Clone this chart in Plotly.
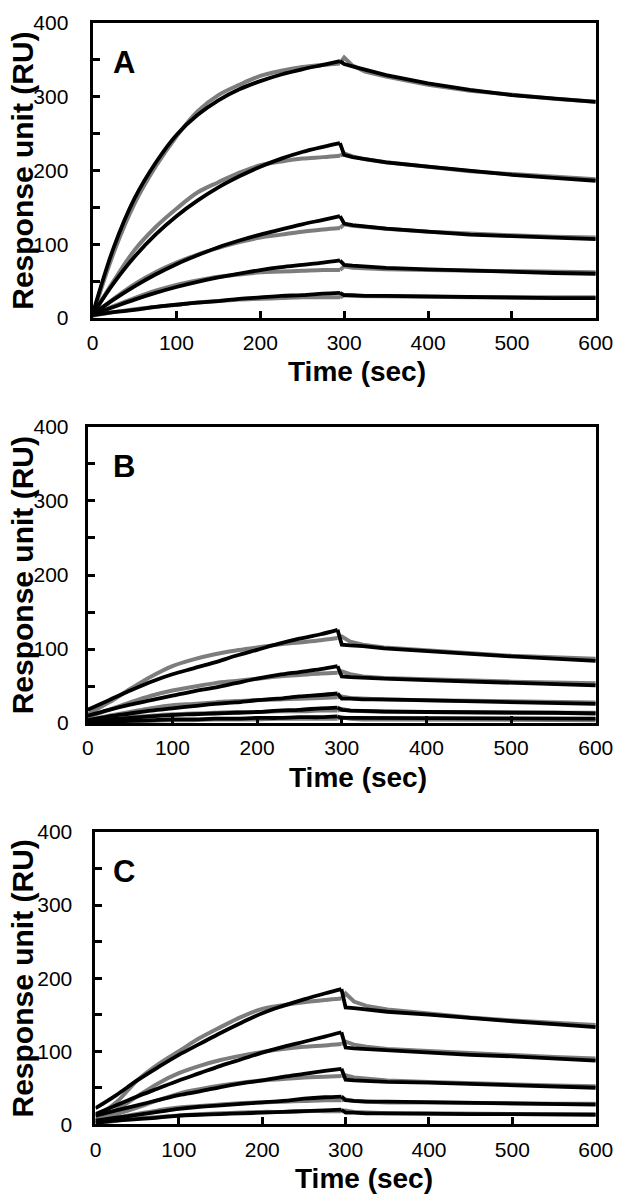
import plotly.graph_objects as go

# ---------------- data ----------------
# association phase time points (s) and dissociation phase time points (s)
T_ON = [0, 25, 50, 75, 100, 125, 150, 175, 200, 225, 250, 275, 295]
T_OFF = [300, 310, 325, 350, 400, 450, 500, 550, 600]

X_TICKS = [0, 100, 200, 300, 400, 500, 600]
Y_TICKS = [0, 100, 200, 300, 400]
Y_MINOR = [50, 150, 250, 350]
PANEL_LABELS = ["A", "B", "C"]

# Panel A : measured sensorgrams (grey) and fitted curves (black)
A_data_on = [
    [3, 88, 155, 205, 246, 280, 302, 316, 328, 335, 340, 343, 345],
    [4, 50, 92, 123, 148, 170, 184, 197, 207, 212, 216, 218, 220],
    [4, 26, 46, 62, 75, 86, 95, 103, 109, 113, 117, 120, 122],
    [4, 16, 27, 37, 45, 51, 56, 59, 62, 63, 64, 65, 65],
    [3, 8, 12, 15, 18, 21, 23, 25, 26, 27, 28, 28, 28],
]
A_data_off = [
    [353, 342, 334, 327, 316, 308, 302, 297, 293],
    [223, 219, 215, 211, 205, 199, 195, 191, 188],
    [127, 125, 123, 121, 117, 114, 112, 110, 109],
    [70, 68, 67, 66, 65, 64, 63, 62, 62],
    [31, 30, 30, 29, 29, 28, 28, 28, 28],
]
A_fit_on = [
    [5, 95, 162, 210, 248, 275, 295, 310, 321, 330, 337, 343, 348],
    [5, 47, 83, 113, 138, 159, 177, 192, 205, 216, 225, 232, 237],
    [5, 25, 43, 59, 73, 85, 96, 105, 113, 120, 127, 133, 138],
    [5, 15, 25, 34, 42, 49, 55, 60, 65, 69, 72, 75, 78],
    [4, 8, 11, 15, 18, 21, 23, 26, 28, 30, 31, 33, 34],
]
A_fit_off = [
    [344, 341, 336, 329, 318, 309, 302, 297, 293],
    [221, 218, 215, 211, 205, 199, 194, 190, 186],
    [128, 126, 124, 121, 117, 113, 111, 109, 107],
    [72, 71, 70, 68, 66, 64, 62, 61, 60],
    [31, 31, 30, 30, 29, 28, 28, 27, 27],
]

# Panel B
B_data_on = [
    [12, 28, 46, 63, 77, 86, 93, 98, 102, 106, 109, 112, 115],
    [8, 18, 28, 37, 44, 49, 54, 57, 60, 63, 65, 67, 68],
    [3, 10, 15, 20, 24, 26, 28, 30, 31, 32, 33, 34, 35],
    [1, 5, 8, 10, 12, 13, 14, 15, 15, 16, 16, 17, 17],
    [0, 2, 3, 3, 4, 4, 5, 5, 5, 6, 6, 6, 6],
]
B_data_off = [
    [117, 110, 106, 102, 98, 94, 91, 89, 87],
    [70, 66, 63, 61, 59, 57, 56, 55, 54],
    [36, 34, 33, 32, 31, 30, 29, 29, 28],
    [19, 17, 16, 15, 15, 14, 14, 14, 14],
    [8, 6, 5, 5, 5, 4, 4, 4, 4],
]
B_fit_on = [
    [18, 31, 44, 56, 66, 74, 82, 91, 99, 107, 114, 120, 126],
    [10, 18, 25, 31, 37, 43, 48, 54, 60, 65, 69, 73, 77],
    [4, 9, 13, 17, 20, 23, 26, 28, 31, 33, 36, 38, 40],
    [2, 5, 7, 9, 11, 12, 13, 14, 15, 17, 18, 20, 21],
    [1, 2, 3, 4, 5, 5, 6, 6, 7, 7, 8, 8, 9],
]
B_fit_off = [
    [106, 105, 104, 101, 97, 93, 90, 87, 84],
    [63, 62, 61, 60, 58, 56, 55, 53, 51],
    [33, 33, 32, 32, 31, 29, 28, 27, 26],
    [18, 17, 17, 16, 15, 15, 14, 14, 13],
    [7, 7, 7, 7, 7, 6, 6, 6, 6],
]

# Panel C
C_data_on = [
    [10, 30, 60, 82, 100, 118, 133, 147, 158, 163, 167, 170, 172],
    [5, 20, 38, 56, 70, 80, 88, 94, 99, 103, 106, 108, 110],
    [6, 14, 23, 33, 42, 48, 53, 57, 60, 62, 64, 65, 66],
    [3, 9, 14, 19, 23, 25, 27, 29, 30, 31, 32, 33, 33],
    [1, 5, 8, 10, 12, 14, 15, 16, 17, 17, 18, 18, 18],
]
C_data_off = [
    [179, 168, 162, 157, 151, 146, 142, 139, 136],
    [113, 109, 106, 103, 100, 97, 94, 92, 90],
    [67, 64, 62, 60, 58, 56, 54, 53, 52],
    [34, 32, 31, 30, 30, 29, 29, 28, 28],
    [19, 17, 16, 15, 15, 14, 14, 14, 14],
]
C_fit_on = [
    [22, 40, 60, 78, 95, 110, 125, 139, 152, 162, 171, 179, 185],
    [14, 26, 38, 49, 60, 70, 80, 89, 98, 106, 113, 120, 126],
    [12, 19, 26, 33, 40, 45, 51, 56, 60, 65, 69, 73, 76],
    [5, 9, 13, 17, 21, 24, 26, 28, 30, 32, 35, 37, 38],
    [2, 5, 7, 9, 12, 13, 14, 15, 16, 17, 18, 19, 20],
]
C_fit_off = [
    [160, 159, 157, 154, 150, 145, 141, 137, 133],
    [105, 104, 103, 101, 98, 95, 93, 90, 87],
    [61, 60, 59, 58, 57, 55, 54, 52, 50],
    [33, 32, 31, 31, 30, 29, 28, 28, 27],
    [16, 16, 15, 15, 14, 14, 14, 13, 13],
]

# ---------------- styling / layout ----------------
W, H = 633, 1202
GRAY = "#7d7d7d"
FONT = "Liberation Sans, Arial, Helvetica, sans-serif"

# plot boxes in page pixels: (left, right, top, bottom)
BOXES = [(90, 613, 11, 312), (85, 613, 423, 725), (93, 613, 836, 1134)]
XTITLE_POS = [(365, 367), (366, 780), (372, 1189)]
YLABEL_STANDOFF = [17, 12, 16]


def px_x(p):
    return p / W


def px_y(p):
    return 1 - p / H


panels = [
    (A_data_on, A_data_off, A_fit_on, A_fit_off),
    (B_data_on, B_data_off, B_fit_on, B_fit_off),
    (C_data_on, C_data_off, C_fit_on, C_fit_off),
]

fig = go.Figure()
layout = dict(
    width=W, height=H, margin=dict(l=0, r=0, t=0, b=0),
    paper_bgcolor="white", plot_bgcolor="white", showlegend=False,
)
annotations = []

for i, (d_on, d_off, f_on, f_off) in enumerate(panels):
    n = i + 1
    xa = "x" if n == 1 else f"x{n}"
    ya = "y" if n == 1 else f"y{n}"
    for on, off in zip(d_on, d_off):
        fig.add_trace(go.Scatter(x=T_ON, y=on, mode="lines", xaxis=xa, yaxis=ya,
                                 line=dict(color=GRAY, width=4, shape="spline", smoothing=1.0),
                                 hoverinfo="skip"))
        fig.add_trace(go.Scatter(x=[T_ON[-1]] + T_OFF, y=[on[-1]] + off, mode="lines",
                                 xaxis=xa, yaxis=ya,
                                 line=dict(color=GRAY, width=4), hoverinfo="skip"))
    for on, off in zip(f_on, f_off):
        fig.add_trace(go.Scatter(x=T_ON, y=on, mode="lines", xaxis=xa, yaxis=ya,
                                 line=dict(color="black", width=3.8, shape="spline", smoothing=1.0),
                                 hoverinfo="skip"))
        fig.add_trace(go.Scatter(x=[T_ON[-1]] + T_OFF, y=[on[-1]] + off, mode="lines",
                                 xaxis=xa, yaxis=ya,
                                 line=dict(color="black", width=3.8), hoverinfo="skip"))

    l, r, t, b = BOXES[i]
    xdom = [px_x(l), px_x(r)]
    ydom = [px_y(b), px_y(t)]
    xkey = "xaxis" if n == 1 else f"xaxis{n}"
    ykey = "yaxis" if n == 1 else f"yaxis{n}"
    layout[xkey] = dict(
        domain=xdom, anchor=ya, range=[0, 600], tickvals=X_TICKS,
        ticks="inside", ticklen=7, tickwidth=2.5, tickcolor="black",
        showline=True, linewidth=3, linecolor="black", mirror=True,
        showgrid=False, zeroline=False, ticklabelstandoff=4,
        tickfont=dict(family=FONT, size=21, color="black"),
    )
    layout[ykey] = dict(
        domain=ydom, anchor=xa, range=[0, 400], tickvals=Y_TICKS,
        ticks="inside", ticklen=7, tickwidth=2.5, tickcolor="black",
        minor=dict(tickvals=Y_MINOR, ticks="inside", ticklen=7, tickwidth=2.5, tickcolor="black"),
        showline=True, linewidth=3, linecolor="black", mirror=True,
        showgrid=False, zeroline=False, ticklabelstandoff=YLABEL_STANDOFF[i],
        tickfont=dict(family=FONT, size=21, color="black"),
    )
    annotations.append(dict(
        text=PANEL_LABELS[i], xref="paper", yref="paper",
        x=px_x(123), y=px_y(t + 40), showarrow=False,
        xanchor="center", yanchor="middle",
        font=dict(family=FONT, size=31, color="black", weight="bold"),
    ))
    annotations.append(dict(
        text="Response unit (RU)", xref="paper", yref="paper",
        x=px_x(17), y=px_y((t + b) / 2), showarrow=False, textangle=-90,
        xanchor="center", yanchor="middle",
        font=dict(family=FONT, size=30, color="black", weight="bold"),
    ))
    xt, yt = XTITLE_POS[i]
    annotations.append(dict(
        text="Time (sec)", xref="paper", yref="paper",
        x=px_x(xt), y=px_y(yt), showarrow=False,
        xanchor="center", yanchor="middle",
        font=dict(family=FONT, size=28, color="black", weight="bold"),
    ))

layout["annotations"] = annotations
fig.update_layout(**layout)
fig.write_html(
    "out.html",
    config={"displayModeBar": False},
    post_script="document.body.style.margin='0';document.body.style.overflow='hidden';",
)
